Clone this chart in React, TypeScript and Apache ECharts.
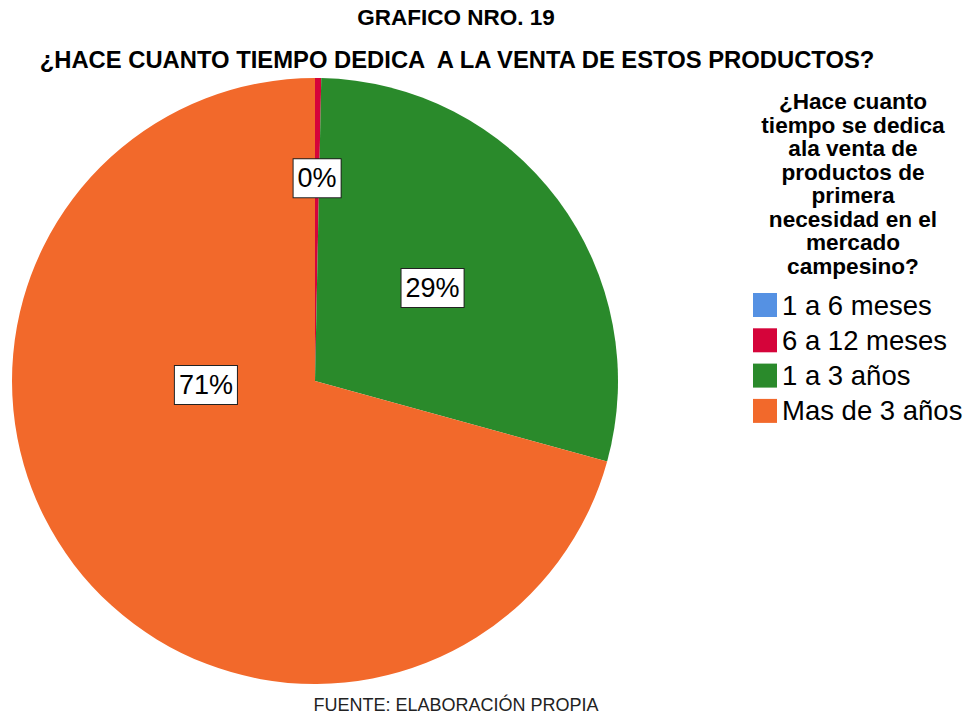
import React, { useEffect, useRef } from "react";
import * as echarts from "echarts";

const categories = ["1 a 6 meses", "6 a 12 meses", "1 a 3 años", "Mas de 3 años"];
const counts = [0, 1, 88, 215];
const colors = ["#5591E3", "#D5043A", "#2A8A2B", "#F2692B"];
const legendHeading = "¿Hace cuanto\ntiempo se dedica\nala venta de\nproductos de\nprimera\nnecesidad en el\nmercado\ncampesino?";
const mainTitle = "GRAFICO NRO. 19";
const subTitle = "¿HACE CUANTO TIEMPO DEDICA  A LA VENTA DE ESTOS PRODUCTOS?";
const footer = "FUENTE: ELABORACIÓN PROPIA";

// label anchor offsets relative to pie centre, in units of radius
const labelOffsets: Record<number, [number, number]> = {
  1: [0.007, -0.669],
  2: [0.388, -0.307],
  3: [-0.36, 0.013],
};

export default function App() {
  const ref = useRef<HTMLDivElement>(null);
  useEffect(() => {
    if (!ref.current) return;
    const chart = echarts.init(ref.current, null, { renderer: "svg" });
    const total = counts.reduce((a, b) => a + b, 0);
    const cx = 315;
    const cy = 381;
    const r = 303;
    chart.setOption({
      animation: false,
      backgroundColor: "#ffffff",
      title: [
        {
          text: mainTitle,
          left: 456,
          top: 4,
          padding: 0,
          textAlign: "center",
          textStyle: { fontFamily: "Liberation Sans, Arial", fontWeight: "bold", fontSize: 22.5, lineHeight: 26, color: "#000" },
        },
        {
          text: subTitle,
          left: 457,
          top: 45,
          padding: 0,
          textAlign: "center",
          textStyle: { fontFamily: "Liberation Sans, Arial", fontWeight: "bold", fontSize: 23.8, lineHeight: 28, color: "#000" },
        },
        {
          text: legendHeading,
          left: 853,
          top: 90,
          padding: 0,
          textAlign: "center",
          textStyle: { fontFamily: "Liberation Sans, Arial", fontWeight: "bold", fontSize: 22.6, lineHeight: 23.5, color: "#000", align: "center" },
        },
        {
          text: footer,
          left: 456,
          top: 696,
          padding: 0,
          textAlign: "center",
          textStyle: { fontFamily: "Liberation Sans, Arial", fontWeight: "normal", fontSize: 18, lineHeight: 18, color: "#222" },
        },
      ],
      legend: {
        orient: "vertical",
        left: 753,
        top: 291,
        padding: 0,
        icon: "rect",
        itemWidth: 24,
        itemHeight: 24,
        itemGap: 7.3,
        data: categories,
        textStyle: { fontFamily: "Liberation Sans, Arial", fontSize: 27.5, lineHeight: 24, color: "#000" },
        selectedMode: false,
      },
      series: [
        {
          type: "pie",
          center: [cx, cy],
          radius: r,
          startAngle: 90,
          clockwise: true,
          avoidLabelOverlap: false,
          stillShowZeroSum: true,
          data: categories.map((name, i) => ({
            name,
            value: counts[i],
            itemStyle: { color: colors[i] },
            label: { show: i !== 0 },
          })),
          label: {
            show: true,
            position: "inside",
            formatter: (p: any) => Math.round((p.value / total) * 100) + "%",
            fontFamily: "Liberation Sans, Arial",
            fontSize: 27,
            color: "#000",
            backgroundColor: "#ffffff",
            borderColor: "#222",
            borderWidth: 1,
            padding: [6, 4, 5, 4],
          },
          labelLine: { show: false },
          labelLayout: (p: any) => {
            const o = labelOffsets[p.dataIndex];
            if (!o) return {};
            return { x: cx + o[0] * r, y: cy + o[1] * r, align: "center", verticalAlign: "middle" };
          },
          emphasis: { disabled: true },
        },
      ],
    });
    return () => chart.dispose();
  }, []);
  return <div ref={ref} style={{ width: 971, height: 715, position: "absolute", left: 0, top: 0 }} />;
}
